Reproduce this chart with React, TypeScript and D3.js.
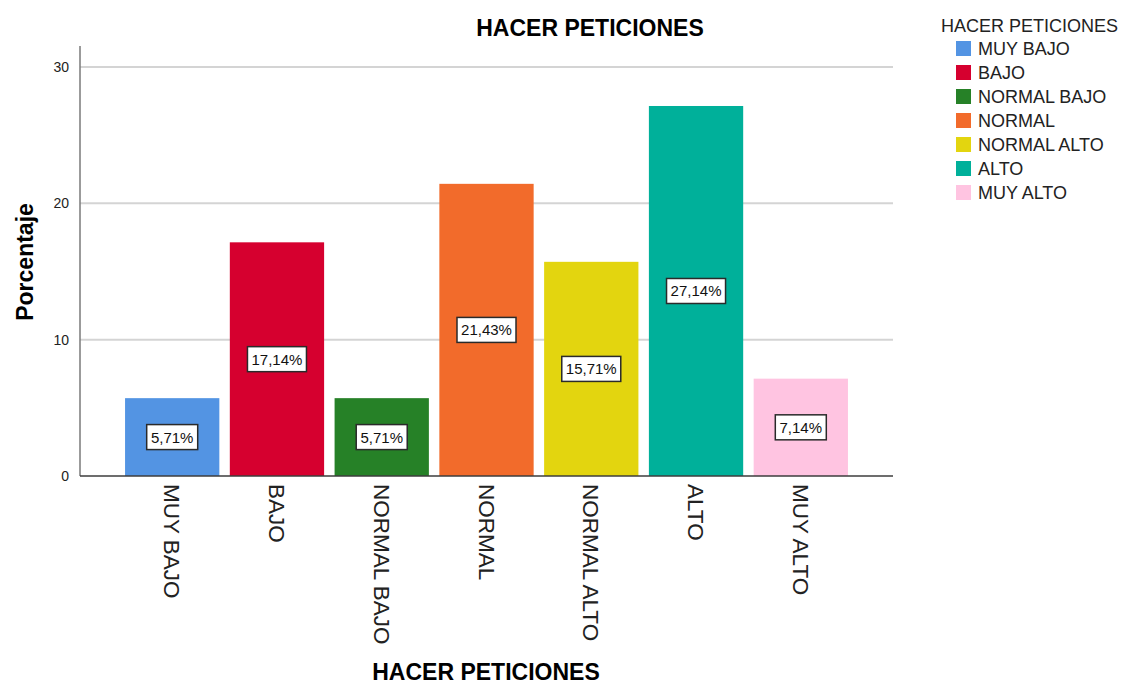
import React from 'react'
import * as d3 from 'd3'

const categories = ['MUY BAJO', 'BAJO', 'NORMAL BAJO', 'NORMAL', 'NORMAL ALTO', 'ALTO', 'MUY ALTO']
const values = [5.71, 17.14, 5.71, 21.43, 15.71, 27.14, 7.14]
const colors = ['#5394e3', '#d6002f', '#268127', '#f26b2b', '#e3d50f', '#00b09a', '#ffc4e1']
const yTicks = [0, 10, 20, 30]

const width = 1123
const height = 686
const left = 80
const right = 893
const top = 46
const bottom = 476
const font = 'Liberation Sans, Arial, sans-serif'

export default function App() {
  const x = d3.scaleBand<string>()
    .domain(categories)
    .range([left, right])
    .paddingInner(0.1)
    .paddingOuter(0.43)
  const y = d3.scaleLinear().domain([0, 30]).range([bottom, 67])
  const fmt = (v: number) => v.toFixed(2).replace('.', ',') + '%'

  return (
    <svg width={width} height={height} style={{ display: 'block', position: 'absolute', left: 0, top: 0 }} fontFamily={font}>
      <rect width={width} height={height} fill='#fff' />
      <text x={590} y={36} textAnchor='middle' fontSize={23} fontWeight='bold' fill='#000'>HACER PETICIONES</text>

      {yTicks.filter(t => t > 0).map(t => (
        <line key={t} x1={left} x2={right} y1={y(t)} y2={y(t)} stroke='#d4d4d4' strokeWidth={2} />
      ))}

      {categories.map((c, i) => (
        <rect key={c} x={x(c)} y={y(values[i])} width={x.bandwidth()} height={y(0) - y(values[i])} fill={colors[i]} />
      ))}

      <line x1={left} x2={left} y1={top} y2={bottom} stroke='#7a7a7a' strokeWidth={1.5} />
      <line x1={left} x2={right} y1={bottom} y2={bottom} stroke='#3c3c3c' strokeWidth={1.5} />

      {yTicks.map(t => (
        <text key={t} x={69} y={y(t) + 5} textAnchor='end' fontSize={14} fill='#222'>{t}</text>
      ))}

      {categories.map((c, i) => {
        const cx = x(c)! + x.bandwidth() / 2
        const cy = y(values[i] / 2)
        const label = fmt(values[i])
        const bw = label.length === 5 ? 51 : 59
        return (
          <g key={c}>
            <rect x={cx - bw / 2} y={cy - 12.5} width={bw} height={25} fill='#fff' stroke='#2a2a2a' strokeWidth={1.5} />
            <text x={cx} y={cy + 5.5} textAnchor='middle' fontSize={15} fill='#111'>{label}</text>
          </g>
        )
      })}

      {categories.map(c => {
        const cx = x(c)! + x.bandwidth() / 2
        return (
          <text key={c} transform={`translate(${cx - 8},${bottom + 8}) rotate(90)`} fontSize={22.5} fill='#222'>{c}</text>
        )
      })}

      <text transform={`translate(33,262) rotate(-90)`} textAnchor='middle' fontSize={23} fontWeight='bold' fill='#000'>Porcentaje</text>
      <text x={486} y={680} textAnchor='middle' fontSize={23} fontWeight='bold' fill='#000'>HACER PETICIONES</text>

      <text x={941} y={32} fontSize={18} fill='#222'>HACER PETICIONES</text>
      {categories.map((c, i) => (
        <g key={c} transform={`translate(956,${41 + i * 24})`}>
          <rect width={15} height={15} fill={colors[i]} />
          <text x={22} y={14} fontSize={18} fill='#222'>{c}</text>
        </g>
      ))}
    </svg>
  )
}
